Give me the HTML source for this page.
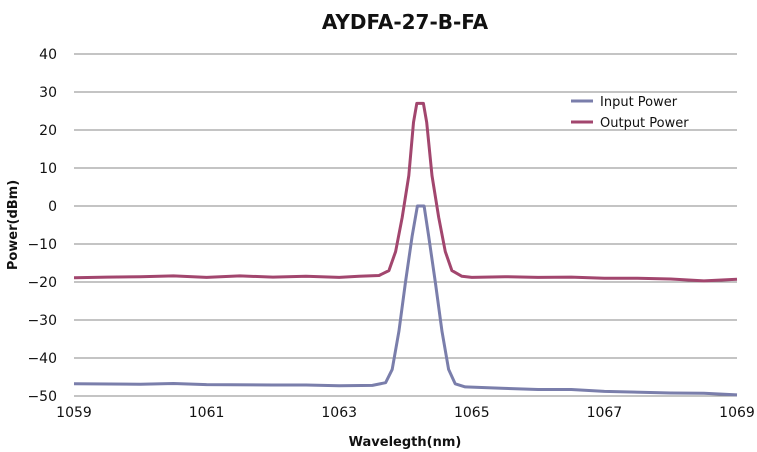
<!DOCTYPE html>
<html><head><meta charset="utf-8"><style>
body{margin:0;background:#fff}
svg{display:block;font-family:"DejaVu Sans","Liberation Sans",sans-serif}
</style></head><body>
<svg id="chart" width="757" height="452" viewBox="0 0 757 452">
<text x="405" y="29" text-anchor="middle" font-size="20" font-weight="bold" fill="#111">AYDFA-27-B-FA</text>
<g id="grid"></g>
<g id="yticks"></g>
<g id="xticks"></g>
<text transform="translate(17,225) rotate(-90)" text-anchor="middle" font-size="13" font-weight="bold" fill="#111">Power(dBm)</text>
<text x="405" y="446" text-anchor="middle" font-size="13" font-weight="bold" fill="#111">Wavelegth(nm)</text>
<g id="series"></g>
<g>
<line x1="571" y1="101" x2="593" y2="101" stroke="#7a7eab" stroke-width="3"/>
<text x="600" y="106" font-size="13" fill="#111">Input Power</text>
<line x1="571" y1="122" x2="593" y2="122" stroke="#a2466e" stroke-width="3"/>
<text x="600" y="127" font-size="13" fill="#111">Output Power</text>
</g>
</svg>
<script>
const yTicks=[40,30,20,10,0,-10,-20,-30,-40,-50];
const xTicks=[1059,1061,1063,1065,1067,1069];
const outWl=[1059,1059.5,1060,1060.5,1061,1061.5,1062,1062.5,1063,1063.3,1063.6,1063.75,1063.85,1063.95,1064.05,1064.12,1064.17,1064.27,1064.32,1064.4,1064.5,1064.6,1064.7,1064.85,1065,1065.5,1066,1066.5,1067,1067.5,1068,1068.5,1069];
const outPow=[-18.9,-18.7,-18.6,-18.4,-18.8,-18.4,-18.7,-18.5,-18.8,-18.5,-18.3,-17,-12,-3,8,22,27,27,22,8,-3,-12,-17,-18.5,-18.8,-18.6,-18.8,-18.7,-19,-19,-19.2,-19.7,-19.3];
const inWl=[1059,1060,1060.5,1061,1062,1062.5,1063,1063.5,1063.7,1063.8,1063.9,1064,1064.1,1064.18,1064.28,1064.35,1064.45,1064.55,1064.65,1064.75,1064.9,1065.5,1066,1066.5,1067,1068,1068.5,1069];
const inPow=[-46.8,-46.9,-46.7,-47,-47.1,-47.1,-47.3,-47.2,-46.5,-43,-33,-20,-8,0,0,-8,-20,-33,-43,-46.8,-47.6,-48,-48.3,-48.3,-48.8,-49.2,-49.3,-49.7];
const X0=74,X1=737,Y0=396,Y1=54;
const xs=v=>X0+(v-1059)/10*(X1-X0);
const ys=v=>Y0-(v+50)/90*(Y0-Y1);
const NS="http://www.w3.org/2000/svg";
const grid=document.getElementById('grid'),yt=document.getElementById('yticks'),xt=document.getElementById('xticks'),ser=document.getElementById('series');
yTicks.forEach(t=>{
 const l=document.createElementNS(NS,'line');
 
 
 l.setAttribute('x1',X0);l.setAttribute('x2',X1);l.setAttribute('y1',ys(t));l.setAttribute('y2',ys(t));
 l.setAttribute('stroke','#8a8a8a');l.setAttribute('stroke-width','1');
 grid.appendChild(l);
 const tx=document.createElementNS(NS,'text');
 
 
 tx.setAttribute('x',57);tx.setAttribute('y',ys(t)+5);tx.setAttribute('text-anchor','end');tx.setAttribute('font-size','14');tx.setAttribute('fill','#111');
 tx.textContent=t<0?'\u2212'+(-t):t;
 yt.appendChild(tx);
});
xTicks.forEach(t=>{
 const tx=document.createElementNS(NS,'text');
 
 
 tx.setAttribute('x',xs(t));tx.setAttribute('y',417);tx.setAttribute('text-anchor','middle');tx.setAttribute('font-size','14');tx.setAttribute('fill','#111');
 tx.textContent=t;
 xt.appendChild(tx);
});
function line(wl,p,col,name){
 const pl=document.createElementNS(NS,'polyline');
 
 
 pl.setAttribute('points',wl.map((w,i)=>xs(w).toFixed(1)+','+ys(p[i]).toFixed(1)).join(' '));
 pl.setAttribute('fill','none');pl.setAttribute('stroke',col);pl.setAttribute('stroke-width','3');pl.setAttribute('stroke-linejoin','round');
 ser.appendChild(pl);
}
line(inWl,inPow,'#7a7eab','input-power-line');
line(outWl,outPow,'#a2466e','output-power-line');
</script>
</body></html>
